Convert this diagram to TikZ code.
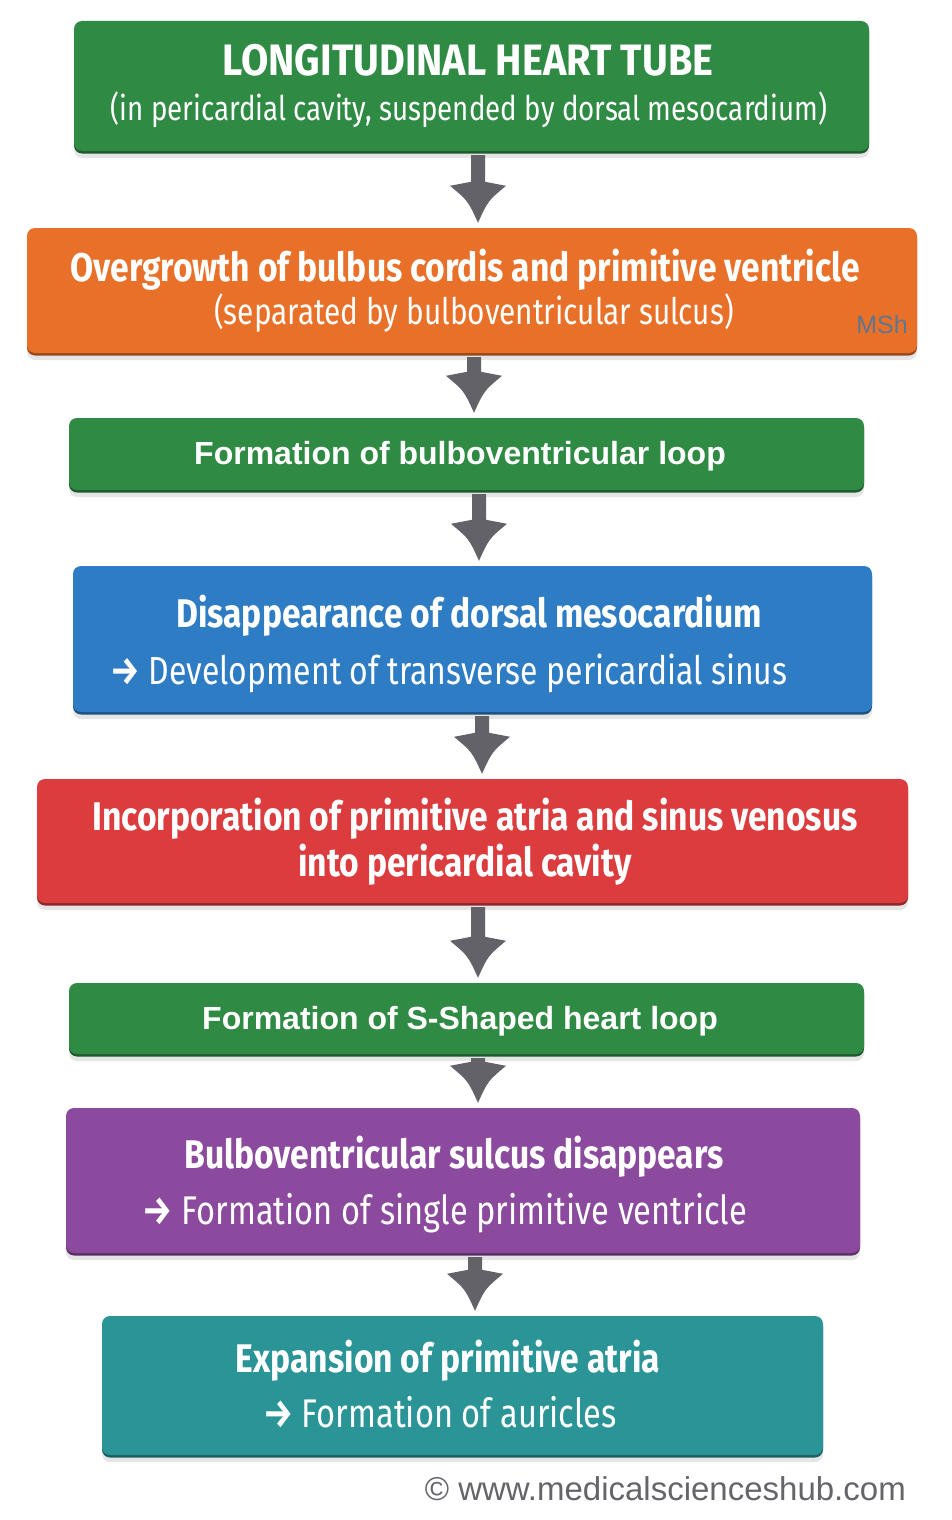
\documentclass[tikz,border=0pt]{standalone}
\usepackage{fontspec}
\setmainfont{Fira Sans}
\newfontfamily\cf[FakeStretch=0.815]{Fira Sans}
\newfontfamily\cfb[FakeStretch=0.84]{Fira Sans}
\newfontfamily\cft[FakeStretch=0.9]{Fira Sans}
\newfontfamily\af{Liberation Sans}
\newfontfamily\wf{Liberation Sans}
\usetikzlibrary{calc,shadows}
\definecolor{cgreen}{RGB}{47,138,68}
\definecolor{corange}{RGB}{232,112,40}
\definecolor{cblue}{RGB}{46,124,196}
\definecolor{cred}{RGB}{220,60,62}
\definecolor{cpurple}{RGB}{140,74,158}
\definecolor{cteal}{RGB}{42,148,150}
\definecolor{carrow}{RGB}{98,98,104}
\definecolor{cfoot}{RGB}{100,100,106}
\definecolor{cmsh}{RGB}{95,118,145}
\newcommand\barr{{\cfb\bfseries →}}
\tikzset{
  colbox/.style={rectangle, rounded corners=8pt, inner sep=0pt, fill=#1,
    drop shadow={shadow xshift=0pt, shadow yshift=-7pt, opacity=0.10, fill=black},
    drop shadow={shadow xshift=0pt, shadow yshift=-2.5pt, opacity=1, fill=#1!65!black}},
  tb/.style={text=white, anchor=base, inner sep=0pt},
  bigb/.style={tb, font={\cfb\bfseries\fontsize{40}{46}\selectfont}},
  bigr/.style={tb, font={\cf\fontsize{40}{46}\selectfont}},
  arb/.style={tb, font={\af\bfseries\fontsize{32}{36}\selectfont}},
  arrowfill/.style={fill=carrow},
}
\newcommand\flowarrow[3]{%
  \coordinate (ax) at (#1,0);
  \coordinate (#2-t) at ($(#2.south -| ax)+(0,4)$);
  \coordinate (#3-p) at ($(#3.north -| ax)+(0,-5)$);
  \fill[arrowfill] ($(#2-t)+(-7,0)$) -- ($(#3-p)+(-7,-41)$) -- ($(#3-p)+(-28,-37)$)
    .. controls ($(#3-p)+(-10,-22)$) .. (#3-p)
    .. controls ($(#3-p)+(10,-22)$) .. ($(#3-p)+(28,-37)$)
    -- ($(#3-p)+(7,-41)$) -- ($(#2-t)+(7,0)$) -- cycle;
}
\begin{document}
\begin{tikzpicture}[x=1pt,y=-1pt]
\useasboundingbox[fill=white] (0,0) rectangle (952,1520);
% boxes
\node[colbox=cgreen,  minimum width=795pt, minimum height=130pt] (b1) at (471.5,86) {};
\node[colbox=corange, minimum width=890pt, minimum height=125pt] (b2) at (472,290.5) {};
\node[colbox=cgreen,  minimum width=795pt, minimum height=72pt]  (b3) at (466.5,454) {};
\node[colbox=cblue,   minimum width=799pt, minimum height=146pt] (b4) at (472.5,639) {};
\node[colbox=cred,    minimum width=871pt, minimum height=124pt] (b5) at (472.5,841) {};
\node[colbox=cgreen,  minimum width=795pt, minimum height=71pt]  (b6) at (466.5,1018.5) {};
\node[colbox=cpurple, minimum width=794pt, minimum height=145pt] (b7) at (463,1180.5) {};
\node[colbox=cteal,   minimum width=721pt, minimum height=139pt] (b8) at (462.5,1385.5) {};
% texts
\node[tb, font={\cft\bfseries\fontsize{44}{50}\selectfont}] (t1a) at (468,75) {LONGITUDINAL HEART TUBE};
\node[tb, font={\cf\fontsize{34}{40}\selectfont}] (t1b) at (469,120) {(in pericardial cavity, suspended by dorsal mesocardium)};
\node[bigb] (t2a) at (465,281) {Overgrowth of bulbus cordis and primitive ventricle};
\node[tb, font={\cf\fontsize{36.5}{42}\selectfont}] (t2b) at (474,324) {(separated by bulboventricular sulcus)};
\node[tb, font={\wf\fontsize{25}{28}\selectfont}, text=cmsh, anchor=base east] (msh) at (908,333) {MSh};
\node[arb] (t3) at (460,464) {Formation of bulboventricular loop};
\node[bigb] (t4a) at (469,627) {Disappearance of dorsal mesocardium};
\node[tb, font={\cf\fontsize{39.2}{46}\selectfont}] (t4b) at (449,684) {\barr{} Development of transverse pericardial sinus};
\node[bigb] (t5a) at (475,830) {Incorporation of primitive atria and sinus venosus};
\node[bigb] (t5b) at (465,876) {into pericardial cavity};
\node[arb] (t6) at (460,1029) {Formation of S-Shaped heart loop};
\node[bigb] (t7a) at (454,1168) {Bulboventricular sulcus disappears};
\node[bigr] (t7b) at (445,1224) {\barr{} Formation of single primitive ventricle};
\node[bigb] (t8a) at (448,1372) {Expansion of primitive atria};
\node[bigr] (t8b) at (440,1427) {\barr{} Formation of auricles};
\node[tb, text=cfoot, anchor=base east, font={\wf\fontsize{33}{38}\selectfont}] (foot) at (906,1500) {© www.medicalscienceshub.com};
% arrows
\flowarrow{478}{b1}{b2}
\flowarrow{474}{b2}{b3}
\flowarrow{479}{b3}{b4}
\flowarrow{482}{b4}{b5}
\flowarrow{478}{b5}{b6}
\flowarrow{478}{b6}{b7}
\flowarrow{475}{b7}{b8}
\end{tikzpicture}
\end{document}
